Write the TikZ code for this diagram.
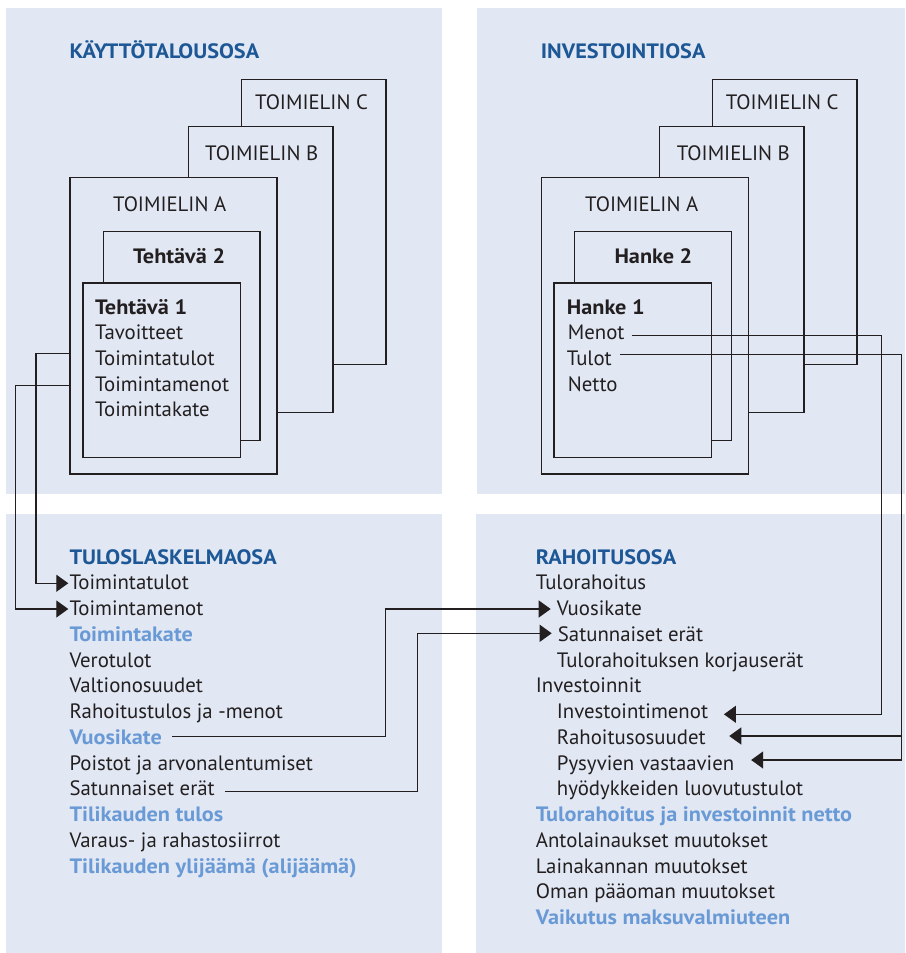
\documentclass[tikz,border=0pt]{standalone}
\usepackage{fontspec}
\setmainfont{PT Sans}[BoldFeatures={FakeStretch=1.07}]
\usetikzlibrary{arrows.meta}
\definecolor{bg}{HTML}{E1E8F4}
\definecolor{hd}{HTML}{1D5795}
\definecolor{lb}{HTML}{6A9AD6}
\definecolor{ln}{HTML}{231F20}
\begin{document}
\begin{tikzpicture}[x=1pt,y=-1pt,
  box/.style={draw=ln, fill=bg, line width=1.2pt, anchor=north west, inner sep=0pt},
  txt/.style={anchor=base west, inner sep=0pt, font=\fontsize{20.8}{24}\selectfont, text=ln},
  head/.style={txt, font=\fontsize{20.8}{24}\selectfont\bfseries, text=hd},
  sub/.style={txt, font=\fontsize{20.8}{24}\selectfont\bfseries, text=lb},
  bold/.style={txt, font=\fontsize{20.8}{24}\selectfont\bfseries},
  conn/.style={draw=ln, line width=1.2pt},
  arr/.style={conn, -{Triangle[length=12pt,width=17pt]}}]
\useasboundingbox (0,0) rectangle (905,953);
% panels
\fill[bg] (6,8) rectangle (442,494);
\fill[bg] (477,8) rectangle (905,494);
\fill[bg] (6,514) rectangle (442,953);
\fill[bg] (476,514) rectangle (905,953);

% ---------- top left ----------
\node[head] (h1) at (69.3,58.3) {KÄYTTÖTALOUSOSA};
\node[box, minimum width=144.6pt, minimum height=285.3pt] (lC) at (240.7,78.7) {};
\node[txt] (lCt) at (255,109.3) {TOIMIELIN C};
\node[box, minimum width=144.6pt, minimum height=285.7pt] (lB) at (187.7,126) {};
\node[txt] (lBt) at (205,160.3) {TOIMIELIN B};
\node[box, minimum width=207pt, minimum height=296.6pt] (lA) at (69.3,176.7) {};
\node[txt] (lAt) at (113,211.7) {TOIMIELIN A};
\node[box, minimum width=156.6pt, minimum height=209pt] (lT2) at (102.7,231) {};
\node[bold] (lT2t) at (133,263.3) {Tehtävä 2};
\node[box, minimum width=157.4pt, minimum height=174.4pt] (lT1) at (82.3,282.3) {};
\node[bold] (lT1t) at (95,314) {Tehtävä 1};
\node[txt] (lT1a) at (95,339.7) {Tavoitteet};
\node[txt] (lT1b) at (95,365.4) {Toimintatulot};
\node[txt] (lT1c) at (95,391.1) {Toimintamenot};
\node[txt] (lT1d) at (95,416.8) {Toimintakate};

% ---------- top right ----------
\node[head] (h2) at (540.7,58.3) {INVESTOINTIOSA};
\node[box, minimum width=144.6pt, minimum height=285.3pt] (rC) at (711.7,78.7) {};
\node[txt] (rCt) at (725.7,109.3) {TOIMIELIN C};
\node[box, minimum width=144.3pt, minimum height=285.7pt] (rB) at (659,126) {};
\node[txt] (rBt) at (676.7,160.3) {TOIMIELIN B};
\node[box, minimum width=207pt, minimum height=296.6pt] (rA) at (540.7,176.7) {};
\node[txt] (rAt) at (585,211.7) {TOIMIELIN A};
\node[box, minimum width=156.7pt, minimum height=209pt] (rH2) at (574,231) {};
\node[bold] (rH2t) at (614.3,263.3) {Hanke 2};
\node[box, minimum width=157.4pt, minimum height=174.4pt] (rH1) at (553.3,282.3) {};
\node[bold] (rH1t) at (566.7,314) {Hanke 1};
\node[txt] (rH1a) at (567.7,339.7) {Menot};
\node[txt] (rH1b) at (566.7,365.4) {Tulot};
\node[txt] (rH1c) at (567.7,391.1) {Netto};

% ---------- bottom left ----------
\node[head] (h3) at (69.3,564) {TULOSLASKELMAOSA};
\node[txt] (b1) at (69.3,589.75) {Toimintatulot};
\node[txt] (b2) at (69.3,615.5) {Toimintamenot};
\node[sub] (b3) at (69.3,641.25) {Toimintakate};
\node[txt] (b4) at (69.3,667) {Verotulot};
\node[txt] (b5) at (69.3,692.75) {Valtionosuudet};
\node[txt] (b6) at (69.3,718.5) {Rahoitustulos ja -menot};
\node[sub] (b7) at (69.3,744.25) {Vuosikate};
\node[txt] (b8) at (69.3,770) {Poistot ja arvonalentumiset};
\node[txt] (b9) at (69.3,795.75) {Satunnaiset erät};
\node[sub] (b10) at (69.3,821.5) {Tilikauden tulos};
\node[txt] (b11) at (69.3,847.25) {Varaus- ja rahastosiirrot};
\node[sub] (b12) at (69.3,873) {Tilikauden ylijäämä (alijäämä)};

% ---------- bottom right ----------
\node[head] (h4) at (535.7,564) {RAHOITUSOSA};
\node[txt] (r1) at (535.7,589.75) {Tulorahoitus};
\node[txt] (r2) at (556.7,615.5) {Vuosikate};
\node[txt] (r3) at (557.7,641.25) {Satunnaiset erät};
\node[txt] (r4) at (556.7,667) {Tulorahoituksen korjauserät};
\node[txt] (r5) at (535.7,692.75) {Investoinnit};
\node[txt] (r6) at (556.7,718.5) {Investointimenot};
\node[txt] (r7) at (556.7,744.25) {Rahoitusosuudet};
\node[txt] (r8) at (556.7,770) {Pysyvien vastaavien};
\node[txt] (r9) at (556.7,795.75) {hyödykkeiden luovutustulot};
\node[sub] (r10) at (535.7,821.5) {Tulorahoitus ja investoinnit netto};
\node[txt] (r11) at (535.7,847.25) {Antolainaukset muutokset};
\node[txt] (r12) at (535.7,873) {Lainakannan muutokset};
\node[txt] (r13) at (535.7,898.75) {Oman pääoman muutokset};
\node[sub] (r14) at (535.7,924.5) {Vaikutus maksuvalmiuteen};

% ---------- connectors ----------
\coordinate (tb1) at ([shift={(-1pt,6.5pt)}]b1.base west);
\coordinate (tb2) at ([shift={(-1pt,6.5pt)}]b2.base west);
\draw[arr] (lA.west |- 0,353.3) -- (36,353.3) |- (tb1);
\draw[arr] (lA.west |- 0,385.7) -- (15.3,385.7) |- (tb2);

\coordinate (s7) at ([xshift=10pt]b7.base east);
\coordinate (s9) at ([xshift=10pt]b9.base east);
\coordinate (tr2) at ([xshift=-6pt]r2.base west);
\coordinate (tr3) at ([xshift=-6pt]r3.base west);
\draw[arr] (s7 |- 0,736.7) -- (385.7,736.7) |- (tr2 |- 0,609);
\draw[arr] (s9 |- 0,791.7) -- (417.7,791.7) |- (tr3 |- 0,633.3);

\coordinate (sm) at ([xshift=7pt]rH1a.base east);
\coordinate (st) at ([xshift=8.3pt]rH1b.base east);
\coordinate (tr6) at ([xshift=15.7pt]r6.base east);
\coordinate (tr7) at ([xshift=23.4pt]r7.base east);
\coordinate (tr8) at ([xshift=16.7pt]r8.base east);
\coordinate (br) at (901.7,736);
\draw[arr] (sm |- 0,335.7) -- (881.7,335.7) |- (tr6 |- 0,714.3);
\draw[arr] (st |- 0,354.3) -- (901.7,354.3) |- (tr8 |- 0,760);
\draw[arr] (br) -- (tr7 |- br);
\end{tikzpicture}
\end{document}
